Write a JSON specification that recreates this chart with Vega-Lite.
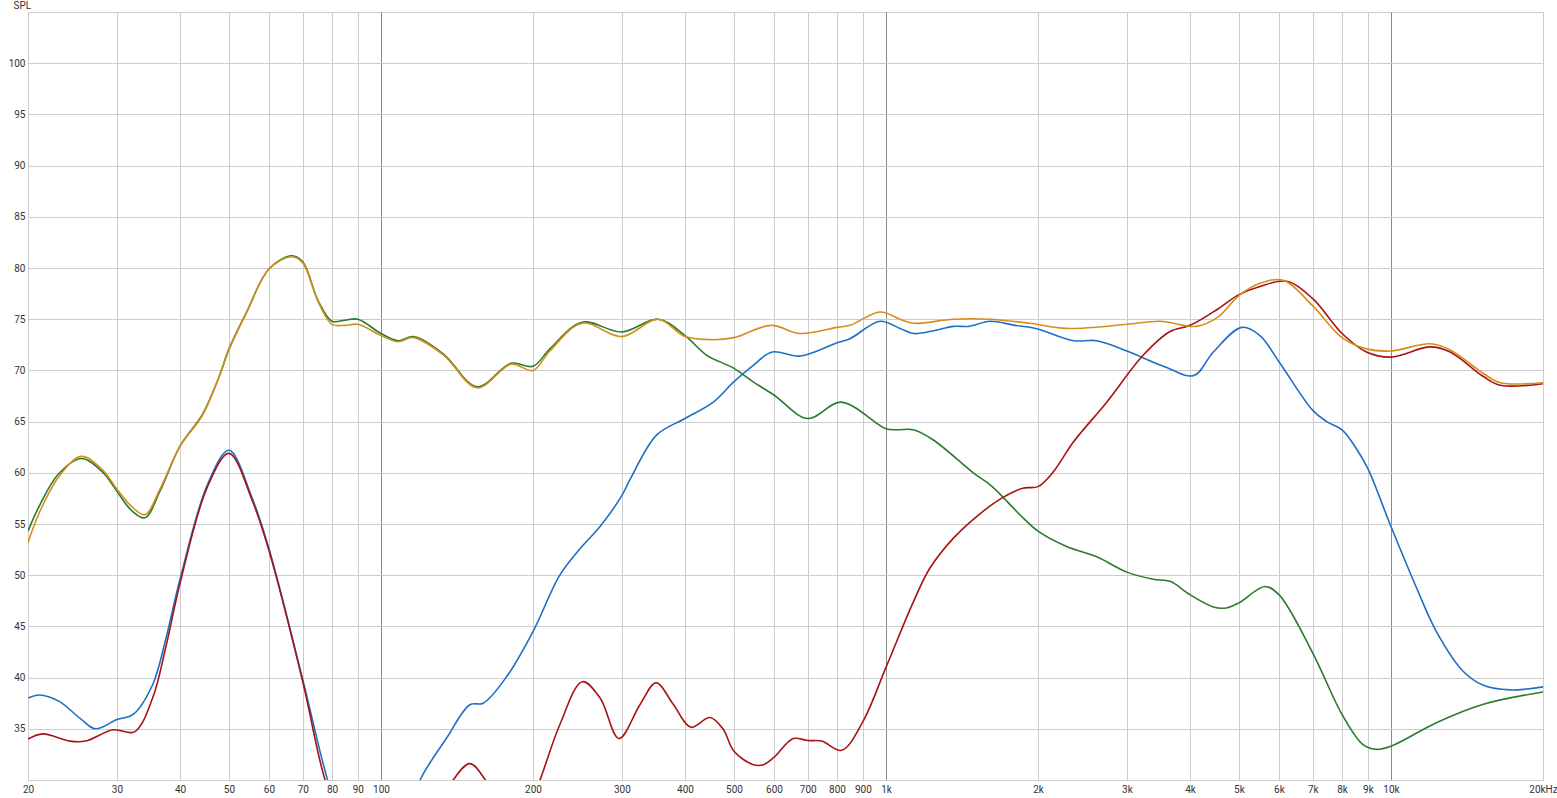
{
  "$schema": "https://vega.github.io/schema/vega-lite/v6.json",
  "autosize": {"type": "none"},
  "padding": {"left": 28, "top": 12, "right": 14, "bottom": 18},
  "width": 1515,
  "height": 768,
  "background": "#ffffff",
  "config": {
    "view": {"stroke": "#cccccc", "strokeWidth": 1},
    "axis": {"labelFont": "Roboto", "labelFontSize": 10, "labelColor": "#333333", "ticks": false, "gridWidth": 1, "domainColor": "#cccccc"}
  },
  "datasets": {
    "curves": [
      {"s": "woofer", "f": 20, "v": 54.3}, {"s": "woofer", "f": 21.1, "v": 56.85}, {"s": "woofer", "f": 23, "v": 59.9}, {"s": "woofer", "f": 25.5, "v": 61.4}, {"s": "woofer", "f": 28.2, "v": 60.0}, {"s": "woofer", "f": 30, "v": 58.2}, {"s": "woofer", "f": 32.1, "v": 56.3}, {"s": "woofer", "f": 34.1, "v": 55.6}, {"s": "woofer", "f": 36.5, "v": 58.2}, {"s": "woofer", "f": 40, "v": 62.6}, {"s": "woofer", "f": 44.3, "v": 65.7}, {"s": "woofer", "f": 47.9, "v": 69.5}, {"s": "woofer", "f": 50, "v": 72.1}, {"s": "woofer", "f": 54.2, "v": 75.7}, {"s": "woofer", "f": 60, "v": 79.9}, {"s": "woofer", "f": 66.6, "v": 81.2}, {"s": "woofer", "f": 70, "v": 80.6}, {"s": "woofer", "f": 75.1, "v": 76.8}, {"s": "woofer", "f": 80, "v": 74.8}, {"s": "woofer", "f": 84.8, "v": 74.9}, {"s": "woofer", "f": 90, "v": 75.0}, {"s": "woofer", "f": 100, "v": 73.6}, {"s": "woofer", "f": 108, "v": 72.9}, {"s": "woofer", "f": 116, "v": 73.3}, {"s": "woofer", "f": 133, "v": 71.6}, {"s": "woofer", "f": 155, "v": 68.4}, {"s": "woofer", "f": 181, "v": 70.7}, {"s": "woofer", "f": 200, "v": 70.4}, {"s": "woofer", "f": 216, "v": 72.1}, {"s": "woofer", "f": 250, "v": 74.7}, {"s": "woofer", "f": 300, "v": 73.75}, {"s": "woofer", "f": 354, "v": 75.0}, {"s": "woofer", "f": 400, "v": 73.4}, {"s": "woofer", "f": 441, "v": 71.5}, {"s": "woofer", "f": 500, "v": 70.2}, {"s": "woofer", "f": 545, "v": 68.9}, {"s": "woofer", "f": 600, "v": 67.6}, {"s": "woofer", "f": 700, "v": 65.3}, {"s": "woofer", "f": 815, "v": 66.9}, {"s": "woofer", "f": 1000, "v": 64.3}, {"s": "woofer", "f": 1053, "v": 64.2}, {"s": "woofer", "f": 1133, "v": 64.2}, {"s": "woofer", "f": 1241, "v": 63.2}, {"s": "woofer", "f": 1489, "v": 60.0}, {"s": "woofer", "f": 1619, "v": 58.7}, {"s": "woofer", "f": 1842, "v": 55.9}, {"s": "woofer", "f": 2000, "v": 54.3}, {"s": "woofer", "f": 2279, "v": 52.8}, {"s": "woofer", "f": 2614, "v": 51.8}, {"s": "woofer", "f": 3000, "v": 50.3}, {"s": "woofer", "f": 3384, "v": 49.6}, {"s": "woofer", "f": 3652, "v": 49.4}, {"s": "woofer", "f": 4000, "v": 48.1}, {"s": "woofer", "f": 4449, "v": 46.9}, {"s": "woofer", "f": 4720, "v": 46.8}, {"s": "woofer", "f": 5000, "v": 47.3}, {"s": "woofer", "f": 5629, "v": 48.9}, {"s": "woofer", "f": 6000, "v": 48.1}, {"s": "woofer", "f": 7000, "v": 42.4}, {"s": "woofer", "f": 8000, "v": 36.4}, {"s": "woofer", "f": 8780, "v": 33.5}, {"s": "woofer", "f": 9300, "v": 33.0}, {"s": "woofer", "f": 10000, "v": 33.3}, {"s": "woofer", "f": 12300, "v": 35.6}, {"s": "woofer", "f": 15240, "v": 37.4}, {"s": "woofer", "f": 20000, "v": 38.6},

      {"s": "mid", "f": 20, "v": 38.0}, {"s": "mid", "f": 21.1, "v": 38.3}, {"s": "mid", "f": 23, "v": 37.7}, {"s": "mid", "f": 25.4, "v": 36.0}, {"s": "mid", "f": 27.2, "v": 35.0}, {"s": "mid", "f": 30, "v": 35.9}, {"s": "mid", "f": 32.3, "v": 36.4}, {"s": "mid", "f": 35.3, "v": 39.3}, {"s": "mid", "f": 37.5, "v": 43.8}, {"s": "mid", "f": 40, "v": 49.6}, {"s": "mid", "f": 45.3, "v": 58.8}, {"s": "mid", "f": 50, "v": 62.2}, {"s": "mid", "f": 55.6, "v": 57.5}, {"s": "mid", "f": 60, "v": 52.6}, {"s": "mid", "f": 70, "v": 39.8}, {"s": "mid", "f": 78.4, "v": 30}, {"s": "mid", "f": 85, "v": 25}, {"s": "mid", "f": 110, "v": 25}, {"s": "mid", "f": 119.5, "v": 30}, {"s": "mid", "f": 134.9, "v": 34.1}, {"s": "mid", "f": 150, "v": 37.35}, {"s": "mid", "f": 159.4, "v": 37.5}, {"s": "mid", "f": 177.4, "v": 40.1}, {"s": "mid", "f": 200, "v": 44.5}, {"s": "mid", "f": 226, "v": 50.0}, {"s": "mid", "f": 248, "v": 52.6}, {"s": "mid", "f": 272, "v": 54.8}, {"s": "mid", "f": 300, "v": 57.8}, {"s": "mid", "f": 311, "v": 59.3}, {"s": "mid", "f": 351.6, "v": 63.7}, {"s": "mid", "f": 400, "v": 65.3}, {"s": "mid", "f": 455, "v": 66.9}, {"s": "mid", "f": 500, "v": 68.9}, {"s": "mid", "f": 546, "v": 70.5}, {"s": "mid", "f": 595, "v": 71.8}, {"s": "mid", "f": 676, "v": 71.4}, {"s": "mid", "f": 800, "v": 72.7}, {"s": "mid", "f": 849, "v": 73.1}, {"s": "mid", "f": 973, "v": 74.8}, {"s": "mid", "f": 1066, "v": 74.1}, {"s": "mid", "f": 1133, "v": 73.6}, {"s": "mid", "f": 1250, "v": 73.9}, {"s": "mid", "f": 1359, "v": 74.3}, {"s": "mid", "f": 1460, "v": 74.3}, {"s": "mid", "f": 1607, "v": 74.8}, {"s": "mid", "f": 1800, "v": 74.4}, {"s": "mid", "f": 1980, "v": 74.1}, {"s": "mid", "f": 2350, "v": 72.9}, {"s": "mid", "f": 2614, "v": 72.9}, {"s": "mid", "f": 3000, "v": 71.9}, {"s": "mid", "f": 3545, "v": 70.4}, {"s": "mid", "f": 4070, "v": 69.5}, {"s": "mid", "f": 4449, "v": 71.8}, {"s": "mid", "f": 5064, "v": 74.2}, {"s": "mid", "f": 5502, "v": 73.4}, {"s": "mid", "f": 6028, "v": 70.7}, {"s": "mid", "f": 7000, "v": 66.1}, {"s": "mid", "f": 7458, "v": 65.0}, {"s": "mid", "f": 8000, "v": 64.2}, {"s": "mid", "f": 8530, "v": 62.4}, {"s": "mid", "f": 9000, "v": 60.4}, {"s": "mid", "f": 10000, "v": 54.75}, {"s": "mid", "f": 11250, "v": 48.7}, {"s": "mid", "f": 12300, "v": 44.5}, {"s": "mid", "f": 13910, "v": 40.6}, {"s": "mid", "f": 15240, "v": 39.25}, {"s": "mid", "f": 17210, "v": 38.8}, {"s": "mid", "f": 20000, "v": 39.1},

      {"s": "tweeter", "f": 20, "v": 34.0}, {"s": "tweeter", "f": 21.4, "v": 34.5}, {"s": "tweeter", "f": 24.2, "v": 33.8}, {"s": "tweeter", "f": 26, "v": 33.8}, {"s": "tweeter", "f": 29.5, "v": 34.9}, {"s": "tweeter", "f": 32.5, "v": 34.7}, {"s": "tweeter", "f": 35.3, "v": 38.0}, {"s": "tweeter", "f": 37.5, "v": 43.0}, {"s": "tweeter", "f": 40, "v": 49.2}, {"s": "tweeter", "f": 45.3, "v": 58.6}, {"s": "tweeter", "f": 50, "v": 61.9}, {"s": "tweeter", "f": 55.6, "v": 57.3}, {"s": "tweeter", "f": 60, "v": 52.4}, {"s": "tweeter", "f": 70, "v": 39.6}, {"s": "tweeter", "f": 77.5, "v": 30}, {"s": "tweeter", "f": 85, "v": 25}, {"s": "tweeter", "f": 128, "v": 26.5}, {"s": "tweeter", "f": 139, "v": 30}, {"s": "tweeter", "f": 150, "v": 31.6}, {"s": "tweeter", "f": 161, "v": 30}, {"s": "tweeter", "f": 175, "v": 26.5}, {"s": "tweeter", "f": 195, "v": 27}, {"s": "tweeter", "f": 206.5, "v": 30}, {"s": "tweeter", "f": 226, "v": 35.4}, {"s": "tweeter", "f": 250.5, "v": 39.6}, {"s": "tweeter", "f": 271.6, "v": 38.0}, {"s": "tweeter", "f": 296, "v": 34.05}, {"s": "tweeter", "f": 325.7, "v": 37.35}, {"s": "tweeter", "f": 350.6, "v": 39.5}, {"s": "tweeter", "f": 379, "v": 37.4}, {"s": "tweeter", "f": 411, "v": 35.15}, {"s": "tweeter", "f": 448, "v": 36.1}, {"s": "tweeter", "f": 475.6, "v": 35.0}, {"s": "tweeter", "f": 500, "v": 32.8}, {"s": "tweeter", "f": 546, "v": 31.5}, {"s": "tweeter", "f": 572, "v": 31.5}, {"s": "tweeter", "f": 600, "v": 32.2}, {"s": "tweeter", "f": 655, "v": 34.05}, {"s": "tweeter", "f": 700, "v": 33.85}, {"s": "tweeter", "f": 746, "v": 33.8}, {"s": "tweeter", "f": 817, "v": 32.9}, {"s": "tweeter", "f": 900, "v": 35.7}, {"s": "tweeter", "f": 1000, "v": 41.0}, {"s": "tweeter", "f": 1133, "v": 47.4}, {"s": "tweeter", "f": 1222, "v": 50.7}, {"s": "tweeter", "f": 1359, "v": 53.6}, {"s": "tweeter", "f": 1535, "v": 56.0}, {"s": "tweeter", "f": 1705, "v": 57.6}, {"s": "tweeter", "f": 1866, "v": 58.5}, {"s": "tweeter", "f": 2000, "v": 58.65}, {"s": "tweeter", "f": 2145, "v": 60.1}, {"s": "tweeter", "f": 2350, "v": 63.0}, {"s": "tweeter", "f": 2736, "v": 66.9}, {"s": "tweeter", "f": 3233, "v": 71.5}, {"s": "tweeter", "f": 3652, "v": 73.8}, {"s": "tweeter", "f": 4000, "v": 74.4}, {"s": "tweeter", "f": 4541, "v": 76.0}, {"s": "tweeter", "f": 5000, "v": 77.4}, {"s": "tweeter", "f": 5502, "v": 78.2}, {"s": "tweeter", "f": 6214, "v": 78.7}, {"s": "tweeter", "f": 7000, "v": 77.0}, {"s": "tweeter", "f": 8000, "v": 73.6}, {"s": "tweeter", "f": 8940, "v": 71.8}, {"s": "tweeter", "f": 10000, "v": 71.3}, {"s": "tweeter", "f": 11949, "v": 72.3}, {"s": "tweeter", "f": 13100, "v": 71.8}, {"s": "tweeter", "f": 15240, "v": 69.4}, {"s": "tweeter", "f": 16460, "v": 68.55}, {"s": "tweeter", "f": 20000, "v": 68.7},

      {"s": "total", "f": 20, "v": 53.2}, {"s": "total", "f": 21.1, "v": 56.2}, {"s": "total", "f": 23, "v": 59.6}, {"s": "total", "f": 25.5, "v": 61.6}, {"s": "total", "f": 28.2, "v": 60.2}, {"s": "total", "f": 30, "v": 58.4}, {"s": "total", "f": 32.1, "v": 56.7}, {"s": "total", "f": 34.1, "v": 55.9}, {"s": "total", "f": 36.5, "v": 58.4}, {"s": "total", "f": 40, "v": 62.6}, {"s": "total", "f": 44.3, "v": 65.6}, {"s": "total", "f": 47.9, "v": 69.5}, {"s": "total", "f": 50, "v": 72.0}, {"s": "total", "f": 54.2, "v": 75.7}, {"s": "total", "f": 60, "v": 79.9}, {"s": "total", "f": 66.6, "v": 81.1}, {"s": "total", "f": 70, "v": 80.5}, {"s": "total", "f": 75.1, "v": 76.7}, {"s": "total", "f": 80, "v": 74.5}, {"s": "total", "f": 84.8, "v": 74.4}, {"s": "total", "f": 90, "v": 74.5}, {"s": "total", "f": 100, "v": 73.4}, {"s": "total", "f": 108, "v": 72.8}, {"s": "total", "f": 116, "v": 73.2}, {"s": "total", "f": 133, "v": 71.5}, {"s": "total", "f": 155, "v": 68.3}, {"s": "total", "f": 181, "v": 70.6}, {"s": "total", "f": 200, "v": 70.0}, {"s": "total", "f": 216, "v": 71.9}, {"s": "total", "f": 250, "v": 74.6}, {"s": "total", "f": 300, "v": 73.3}, {"s": "total", "f": 354, "v": 75.0}, {"s": "total", "f": 400, "v": 73.3}, {"s": "total", "f": 455, "v": 73.0}, {"s": "total", "f": 500, "v": 73.2}, {"s": "total", "f": 592, "v": 74.4}, {"s": "total", "f": 676, "v": 73.6}, {"s": "total", "f": 800, "v": 74.2}, {"s": "total", "f": 849, "v": 74.4}, {"s": "total", "f": 973, "v": 75.7}, {"s": "total", "f": 1066, "v": 75.0}, {"s": "total", "f": 1133, "v": 74.6}, {"s": "total", "f": 1359, "v": 75.0}, {"s": "total", "f": 1607, "v": 75.0}, {"s": "total", "f": 1928, "v": 74.6}, {"s": "total", "f": 2279, "v": 74.1}, {"s": "total", "f": 3000, "v": 74.5}, {"s": "total", "f": 3488, "v": 74.8}, {"s": "total", "f": 4124, "v": 74.3}, {"s": "total", "f": 4541, "v": 75.2}, {"s": "total", "f": 5000, "v": 77.3}, {"s": "total", "f": 5502, "v": 78.5}, {"s": "total", "f": 6119, "v": 78.8}, {"s": "total", "f": 7000, "v": 76.3}, {"s": "total", "f": 8000, "v": 73.2}, {"s": "total", "f": 8940, "v": 72.1}, {"s": "total", "f": 10000, "v": 71.9}, {"s": "total", "f": 11949, "v": 72.6}, {"s": "total", "f": 13100, "v": 72.0}, {"s": "total", "f": 15240, "v": 69.7}, {"s": "total", "f": 16460, "v": 68.8}, {"s": "total", "f": 20000, "v": 68.8}
    ]
  },
  "data": {"name": "curves"},
  "mark": {"type": "line", "interpolate": "catmull-rom", "strokeWidth": 1.6, "clip": true},
  "encoding": {
    "x": {
      "field": "f", "type": "quantitative",
      "scale": {"type": "log", "domain": [20, 20000], "nice": false},
      "axis": {
        "title": null,
        "values": [20, 30, 40, 50, 60, 70, 80, 90, 100, 200, 300, 400, 500, 600, 700, 800, 900, 1000, 2000, 3000, 4000, 5000, 6000, 7000, 8000, 9000, 10000, 20000],
        "labelExpr": "datum.value == 20000 ? '20kHz' : (datum.value >= 1000 ? (datum.value / 1000) + 'k' : datum.value + '')",
        "labelPadding": 4,
        "labelFlush": false,
        "labelOverlap": false,
        "grid": true,
        "gridColor": {"condition": {"test": "datum.value == 100 || datum.value == 1000 || datum.value == 10000", "value": "#8a8a8a"}, "value": "#cccccc"},
        "domain": true
      }
    },
    "y": {
      "field": "v", "type": "quantitative",
      "scale": {"domain": [30, 105], "nice": false, "zero": false},
      "axis": {
        "title": "SPL",
        "titleAngle": 0,
        "titleX": -15,
        "titleY": -2,
        "titleAlign": "left",
        "titleBaseline": "bottom",
        "titleFont": "Roboto",
        "titleFontSize": 10,
        "titleFontWeight": "normal",
        "titleColor": "#333333",
        "values": [35, 40, 45, 50, 55, 60, 65, 70, 75, 80, 85, 90, 95, 100],
        "labelPadding": 3,
        "grid": true,
        "gridColor": "#cccccc",
        "domain": true
      }
    },
    "color": {
      "field": "s", "type": "nominal",
      "scale": {"domain": ["woofer", "mid", "tweeter", "total"], "range": ["#2c7a2c", "#1c70c6", "#a81212", "#d48e1c"]},
      "legend": null
    }
  }
}
